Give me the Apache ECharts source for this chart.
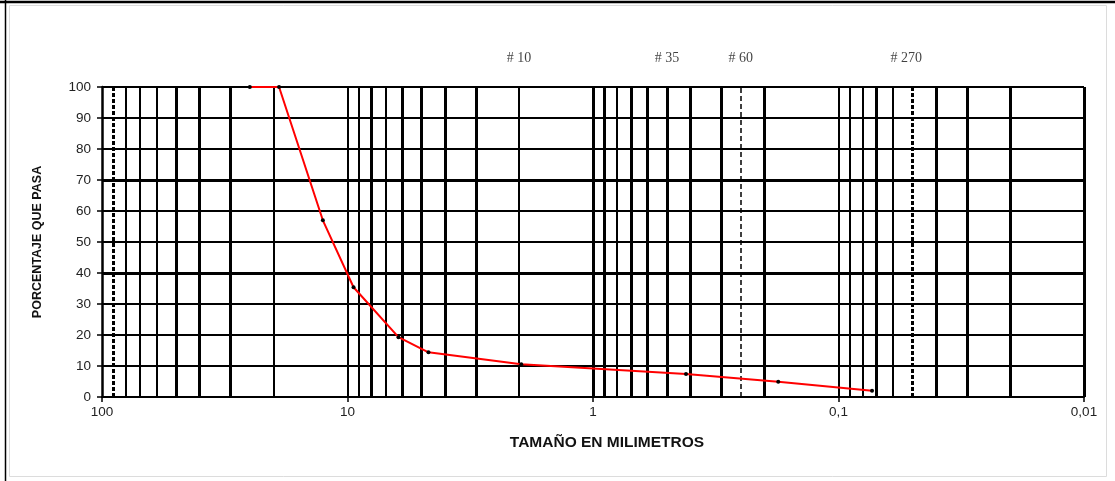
<!DOCTYPE html>
<html><head><meta charset="utf-8">
<script src="https://cdn.jsdelivr.net/npm/echarts@6/dist/echarts.min.js"></script>
<style>html,body{margin:0;padding:0;background:#fff}#c{width:1115px;height:481px}</style>
</head><body><div id="c"></div>
<script>
// ---- data ----
const sizesMm = [25, 19, 12.6, 9.45, 6.2, 4.68, 1.96, 0.418, 0.176, 0.073];
const percentPassing = [100, 100, 57, 35.4, 19.3, 14.4, 10.6, 7.4, 4.9, 2.0];
const xTickValues = [100, 10, 1, 0.1, 0.01];
const xTickLabels = ['100', '10', '1', '0,1', '0,01'];
const sieveNames = ['# 10', '# 35', '# 60', '# 270'];
const sieveSizes = [2.0, 0.5, 0.25, 0.053];
// vertical log-paper grid lines (mm)
const gridLinesThin = [80, 70, 60, 20, 10, 9, 7, 2, 0.8, 0.1, 0.09, 0.08, 0.06];
const gridLinesThick = [50, 40, 30, 8, 6, 5, 4, 3, 1, 0.9, 0.7, 0.6, 0.5, 0.4, 0.3, 0.2, 0.07, 0.04, 0.03, 0.02, 0.01];
const gridLinesDotted = [90, 0.05];
const gridLinesDashed = [0.25];
const horizontalThick = [40, 70];
const yTitle = 'PORCENTAJE QUE PASA';
const xTitle = 'TAMAÑO EN MILIMETROS';

const sans = 'Liberation Sans, Arial, sans-serif';
const serif = 'Liberation Serif, Times New Roman, serif';

function vline(v, width, type) {
  return { xAxis: v, lineStyle: { color: '#000', width: width, type: type || 'solid' } };
}
const markData = []
  .concat(gridLinesThin.map(v => vline(v, 2)))
  .concat(gridLinesThick.map(v => vline(v, 3)))
  .concat(gridLinesDotted.map(v => vline(v, 3, [4, 2])))
  .concat(gridLinesDashed.map(v => vline(v, 1.5, [5, 3])))
  .concat(horizontalThick.map(v => ({ yAxis: v, lineStyle: { color: '#000', width: 3, type: 'solid' } })));

const chart = echarts.init(document.getElementById('c'), null, { renderer: 'canvas' });
chart.setOption({
  backgroundColor: '#fff',
  animation: false,
  grid: { left: 102, right: 31, top: 87, bottom: 84, containLabel: false },
  xAxis: {
    type: 'log', logBase: 10, min: 0.01, max: 100, inverse: true, splitNumber: 4,
    name: xTitle, nameLocation: 'middle', nameGap: 38,
    nameTextStyle: { fontFamily: sans, fontWeight: 'bold', fontSize: 15.5, color: '#111', padding: [0, 0, 0, 28] },
    axisLine: { show: true, onZero: false, lineStyle: { color: '#000', width: 2 } },
    axisTick: { show: true, length: 5, lineStyle: { color: '#000', width: 1.5 } },
    axisLabel: {
      margin: 8, fontFamily: sans, fontSize: 13.5, color: '#222',
      formatter: function (v) {
        for (let i = 0; i < xTickValues.length; i++) {
          if (Math.abs(Math.log10(v) - Math.log10(xTickValues[i])) < 1e-6) return xTickLabels[i];
        }
        return '';
      }
    },
    splitLine: { show: false }
  },
  yAxis: {
    type: 'value', min: 0, max: 100, interval: 10,
    name: yTitle, nameLocation: 'middle', nameGap: 58,
    nameTextStyle: { fontFamily: sans, fontWeight: 'bold', fontSize: 12.5, color: '#111' },
    axisLine: { show: true, onZero: false, lineStyle: { color: '#000', width: 2.5 } },
    axisTick: { show: true, length: 5, lineStyle: { color: '#000', width: 1.5 } },
    axisLabel: { margin: 11, fontFamily: sans, fontSize: 13.5, color: '#222' },
    splitLine: { show: true, lineStyle: { color: '#000', width: 2 } }
  },
  graphic: [
    { type: 'line', shape: { x1: 0, y1: 2, x2: 1115, y2: 2 }, style: { stroke: '#000', lineWidth: 2.5 }, silent: true },
    { type: 'line', shape: { x1: 5.5, y1: 0, x2: 5.5, y2: 481 }, style: { stroke: '#000', lineWidth: 1.5 }, silent: true },
    { type: 'rect', shape: { x: 9.5, y: 5.5, width: 1097, height: 471 }, style: { fill: 'none', stroke: '#dcdcdc', lineWidth: 1 }, silent: true }
  ],
  series: [
    {
      name: 'grid', type: 'line', data: [], z: 1, silent: true,
      markLine: { silent: true, symbol: ['none', 'none'], label: { show: false }, animation: false, data: markData }
    },
    {
      name: 'granulometria', type: 'line', z: 5,
      data: sizesMm.map((s, i) => [s, percentPassing[i]]),
      smooth: false,
      showSymbol: true, symbol: 'circle', symbolSize: 4,
      itemStyle: { color: '#000' },
      lineStyle: { color: '#ff0000', width: 2 }
    },
    {
      name: 'tamices', type: 'scatter', z: 6, symbolSize: 0,
      data: sieveSizes.map(s => [s, 100]),
      label: {
        show: true, position: 'top', distance: 22,
        fontFamily: serif, fontSize: 14, color: '#111',
        formatter: p => sieveNames[p.dataIndex]
      }
    }
  ]
});
</script>
</body></html>
